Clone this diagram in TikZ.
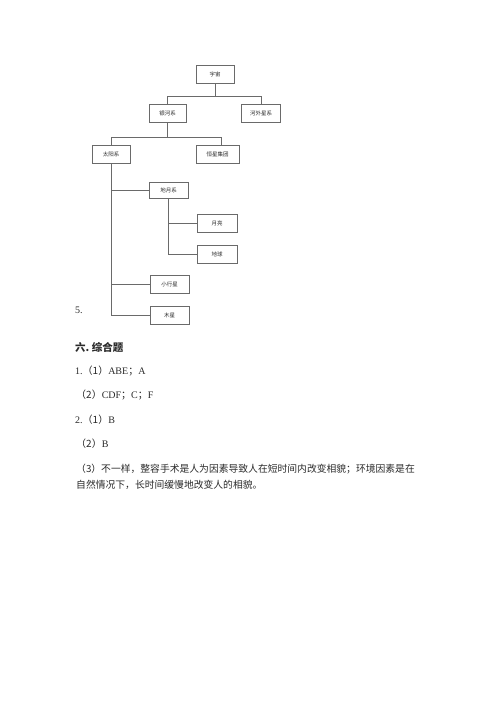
\documentclass[tikz,border=0pt]{standalone}
\usepackage{fontspec}
\setmainfont{Liberation Serif}
\newfontfamily\cjk{Noto Sans CJK SC}
\usetikzlibrary{positioning}
\definecolor{boxline}{HTML}{6A6A6A}
\definecolor{ink}{HTML}{2A2A2A}

\begin{document}
\begin{tikzpicture}[x=1pt, y=-1pt, text=ink,
      box/.style={draw=boxline, line width=0.7pt, minimum width=38pt, minimum height=18pt,
        inner sep=1pt, font=\fontsize{5.5}{6}\selectfont\cjk},
      link/.style={draw=boxline, line width=0.7pt},
      para/.style={anchor=west, inner sep=0pt, font=\fontsize{10}{12}\selectfont}]
    \useasboundingbox (0,0) rectangle (500,707);
    % tree
    \node[box] (yz) at (215,74) {宇宙};
    \node[box,minimum width=37pt] (yh) at (167.5,113) {银河系};
    \node[box,minimum width=39pt] (hw) at (261,113) {河外星系};
    \node[box] (ty) at (111,154) {太阳系};
    \node[box,minimum width=43pt] (hx) at (217.5,154.5) {恒星集团};
    \node[box,minimum width=39pt,minimum height=16pt] (dy) at (168.5,190) {地月系};
    \node[box,minimum width=40pt] (yl) at (217,223) {月亮};
    \node[box,minimum width=40pt] (dq) at (217,254) {地球};
    \node[box,minimum width=39pt] (xx) at (169.5,284) {小行星};
    \node[box,minimum width=39pt] (mx) at (169.5,315) {木星};
    \draw[link] (yz.south) -- (yz.south |- 0,96) -| (yh.north);
    \draw[link] (yz.south |- 0,96) -| (hw.north);
    \draw[link] (yh.south) -- (yh.south |- 0,137) -| (ty.north);
    \draw[link] (yh.south |- 0,137) -| ([xshift=3.5pt]hx.north);
    \draw[link] (ty.south) |- (mx.west);
    \draw[link] (ty.south |- dy.west) -- (dy.west);
    \draw[link] (ty.south |- xx.west) -- (xx.west);
    \draw[link] (dy.south) |- (dq.west);
    \draw[link] (dy.south |- yl.west) -- (yl.west);
    % answers
    \node[para] (n5) at (75,310) {5.};
    \node[para,font=\fontsize{10.5}{12}\selectfont\bfseries] (t6) at (75,347) {{\cjk 六.~综合题}};
    \node[para] (a1) at (75,371) {1.{\cjk （1）}ABE{\cjk ；}A};
    \node[para] (a2) at (76,395) {{\cjk （2）}CDF{\cjk ；}C{\cjk ；}F};
    \node[para] (b1) at (75,420) {2.{\cjk （1）}B};
    \node[para] (b2) at (76,444) {{\cjk （2）}B};
    \node[para,font=\fontsize{9.8}{12}\selectfont\cjk] (b3) at (76,469) {（3）不一样，整容手术是人为因素导致人在短时间内改变相貌；环境因素是在};
    \node[para,font=\fontsize{9.8}{12}\selectfont\cjk] (b4) at (76,485) {自然情况下，长时间缓慢地改变人的相貌。};
\end{tikzpicture}
\end{document}
